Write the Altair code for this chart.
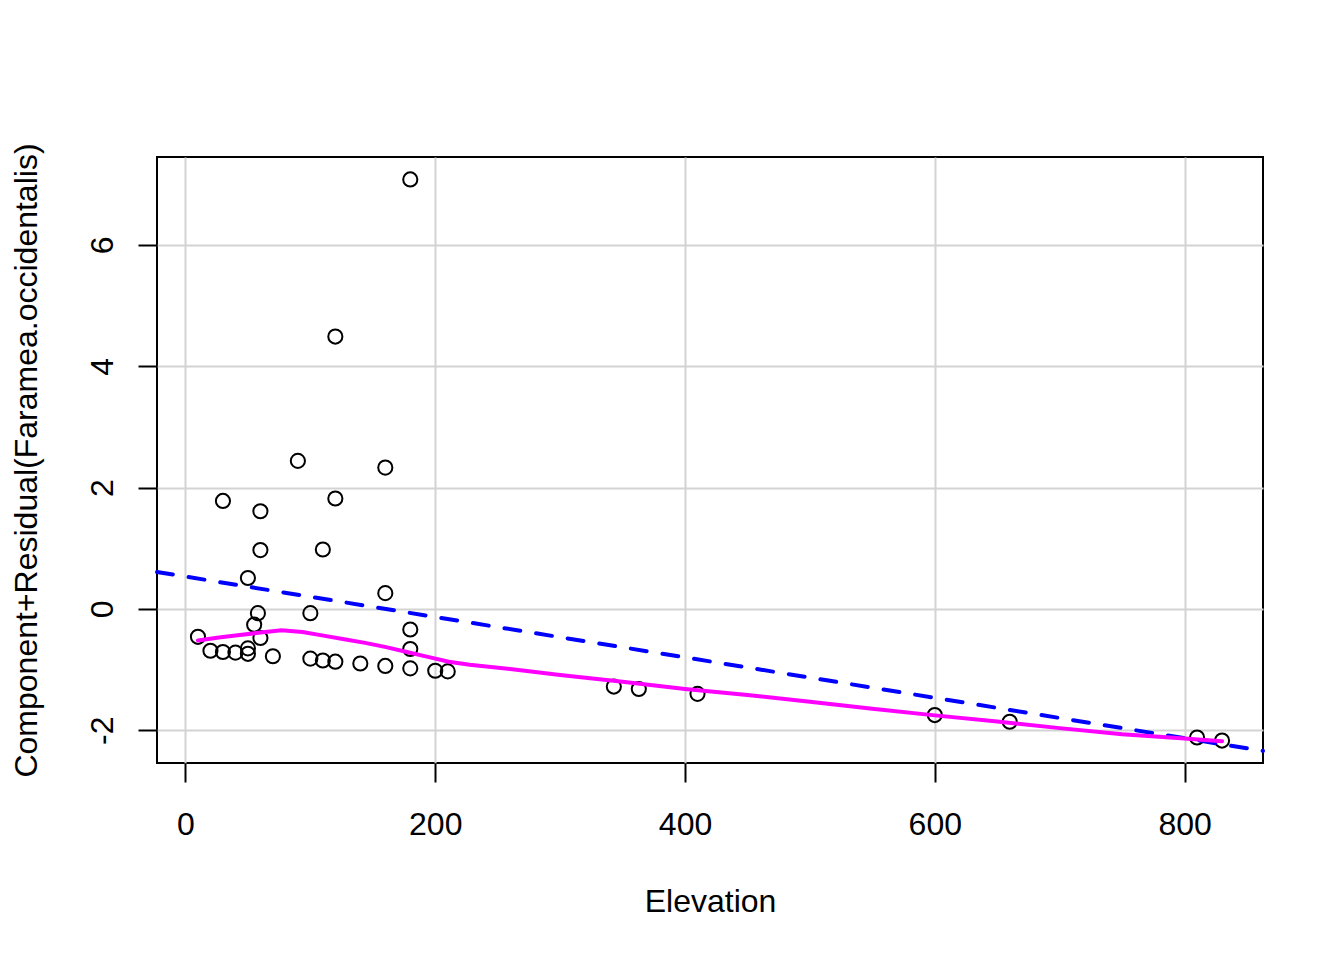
import altair as alt
import pandas as pd

# Observed points (Elevation, component + residual)
elevation = [180, 120, 90, 160, 30, 120, 60, 60, 110, 50, 160, 58, 100, 55, 10, 60,
             180, 180, 20, 30, 40, 50, 50, 70, 100, 110, 120, 140, 160, 180, 200, 210,
             343, 363, 410, 600, 660, 810, 830]
cr_resid = [7.08, 4.49, 2.44, 2.33, 1.78, 1.82, 1.61, 0.97, 0.98, 0.51, 0.26, -0.07, -0.07,
            -0.26, -0.46, -0.48, -0.34, -0.66, -0.69, -0.71, -0.72, -0.65, -0.74, -0.78,
            -0.82, -0.85, -0.87, -0.90, -0.94, -0.98, -1.02, -1.03, -1.28, -1.32, -1.40,
            -1.75, -1.86, -2.12, -2.17]

# Loess smoother
smooth_x = [10, 26.7, 43.5, 60.2, 76.9, 93.7, 110.4, 127.1, 143.9, 160.6, 177.3, 194.1,
            210.8, 227.6, 260, 300, 350, 400, 450, 500, 550, 600, 650, 700, 750, 800, 830]
smooth_y = [-0.52, -0.47, -0.43, -0.39, -0.35, -0.38, -0.44, -0.50, -0.56, -0.63, -0.71,
            -0.79, -0.87, -0.92, -0.99, -1.09, -1.20, -1.32, -1.42, -1.53, -1.645, -1.755,
            -1.855, -1.965, -2.065, -2.135, -2.18]

# Linear component line
fit_intercept = 0.533
fit_slope = -0.00333

x_ticks = [0, 200, 400, 600, 800]
y_ticks = [-2, 0, 2, 4, 6]

# R-style 4% axis extension
xmin, xmax = min(elevation), max(elevation)
ymin, ymax = min(cr_resid), max(cr_resid)
xpad = 0.04 * (xmax - xmin)
ypad = 0.04 * (ymax - ymin)
xdom = [xmin - xpad, xmax + xpad]
ydom = [ymin - ypad, ymax + ypad]

pts = pd.DataFrame({"Elevation": elevation, "cr": cr_resid})
fit = pd.DataFrame({"Elevation": xdom,
                    "cr": [fit_intercept + fit_slope * v for v in xdom]})
sm = pd.DataFrame({"Elevation": smooth_x, "cr": smooth_y})

FONT = "Liberation Sans"
W, H = 1106, 606

xs = alt.Scale(domain=xdom, nice=False, zero=False)
ys = alt.Scale(domain=ydom, nice=False, zero=False)

xaxis = alt.Axis(values=x_ticks, title="Elevation", grid=True, gridColor="#d3d3d3",
                 gridWidth=2, domain=False, tickSize=19, tickWidth=2, tickColor="black",
                 labelFont=FONT, labelFontSize=32, labelColor="black", labelPadding=27,
                 labelBaseline="top", labelAlign="center", labelFlush=False,
                 labelExpr="datum.value + ''",
                 titleFont=FONT, titleFontSize=32, titleFontWeight="normal",
                 titleColor="black", titleX=W / 2, titleY=148,
                 titleBaseline="alphabetic", titleAlign="center")
yaxis = alt.Axis(values=y_ticks, title="Component+Residual(Faramea.occidentalis)",
                 grid=True, gridColor="#d3d3d3", gridWidth=2, domain=False,
                 tickSize=19, tickWidth=2, tickColor="black",
                 labelFont=FONT, labelFontSize=32, labelColor="black", labelPadding=26,
                 labelAngle=270, labelAlign="center", labelBaseline="alphabetic",
                 labelFlush=False, labelExpr="datum.value + ''",
                 titleFont=FONT, titleFontSize=32, titleFontWeight="normal",
                 titleColor="black", titleAngle=270, titleX=-120.5, titleY=H / 2,
                 titleBaseline="alphabetic", titleAlign="center")

points = alt.Chart(pts).mark_point(shape="circle", filled=False, color="black",
                                   strokeWidth=2, size=200, opacity=1).encode(
    x=alt.X("Elevation:Q", scale=xs, axis=xaxis),
    y=alt.Y("cr:Q", scale=ys, axis=yaxis),
)

fit_line = alt.Chart(fit).mark_line(color="#0000FF", strokeWidth=4,
                                    strokeDash=[16, 16], strokeCap="round").encode(
    x=alt.X("Elevation:Q", scale=xs),
    y=alt.Y("cr:Q", scale=ys),
)

smooth_line = alt.Chart(sm).mark_line(color="#FF00FF", strokeWidth=4,
                                      strokeCap="round").encode(
    x=alt.X("Elevation:Q", scale=xs),
    y=alt.Y("cr:Q", scale=ys),
)

chart = alt.layer(points, fit_line, smooth_line).properties(
    width=W, height=H,
    autosize=alt.AutoSizeParams(type="none"),
    padding={"left": 149, "top": 149, "right": 70, "bottom": 160},
    background="white",
).configure_view(stroke="black", strokeWidth=2)

chart.save("out.html", embed_options={"renderer": "svg", "actions": False})
